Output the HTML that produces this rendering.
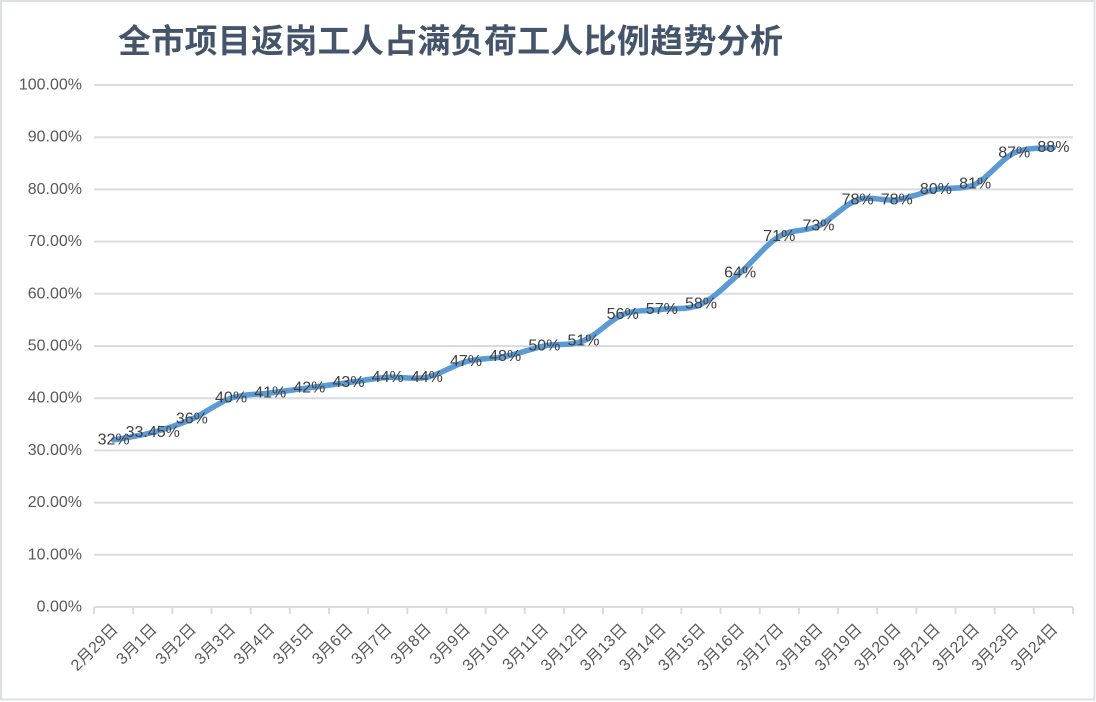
<!DOCTYPE html>
<html>
<head>
<meta charset="utf-8">
<style>
  html,body{margin:0;padding:0;background:#fff;}
  svg{display:block;}
  .yl{font-family:"Liberation Sans","Noto Sans CJK SC",sans-serif;font-size:16px;fill:#595959;}
  .xl{font-family:"Liberation Sans","Noto Sans CJK SC",sans-serif;font-size:16px;fill:#595959;}
  .dl{font-family:"Liberation Sans","Noto Sans CJK SC",sans-serif;font-size:16px;fill:#404040;}
  .tt{font-family:"Liberation Sans","Noto Sans CJK SC",sans-serif;font-size:33px;font-weight:600;fill:#44546A;}
</style>
</head>
<body>
<svg width="1096" height="702" viewBox="0 0 1096 702" xmlns="http://www.w3.org/2000/svg">
  <rect x="0" y="0" width="1096" height="702" fill="#fff"/>
  <rect x="1" y="1" width="1093.5" height="698.5" fill="none" stroke="#DDE1E6" stroke-width="2"/>

  <text class="tt" x="118" y="41" dominant-baseline="central" textLength="665" lengthAdjust="spacing">全市项目返岗工人占满负荷工人比例趋势分析</text>

  <!-- gridlines -->
  <g stroke="#D9DCE1" stroke-width="2">
    <line x1="94" y1="85" x2="1073" y2="85"/>
    <line x1="94" y1="137.2" x2="1073" y2="137.2"/>
    <line x1="94" y1="189.4" x2="1073" y2="189.4"/>
    <line x1="94" y1="241.6" x2="1073" y2="241.6"/>
    <line x1="94" y1="293.8" x2="1073" y2="293.8"/>
    <line x1="94" y1="346" x2="1073" y2="346"/>
    <line x1="94" y1="398.2" x2="1073" y2="398.2"/>
    <line x1="94" y1="450.4" x2="1073" y2="450.4"/>
    <line x1="94" y1="502.6" x2="1073" y2="502.6"/>
    <line x1="94" y1="554.8" x2="1073" y2="554.8"/>
    <line x1="94" y1="607" x2="1073" y2="607"/>
  </g>
  <!-- ticks -->
  <g stroke="#D9DCE1" stroke-width="2" id="ticks"></g>

  <!-- y labels -->
  <g class="yl" text-anchor="end">
    <text x="82" y="85" dominant-baseline="central">100.00%</text>
    <text x="82" y="137.2" dominant-baseline="central">90.00%</text>
    <text x="82" y="189.4" dominant-baseline="central">80.00%</text>
    <text x="82" y="241.6" dominant-baseline="central">70.00%</text>
    <text x="82" y="293.8" dominant-baseline="central">60.00%</text>
    <text x="82" y="346" dominant-baseline="central">50.00%</text>
    <text x="82" y="398.2" dominant-baseline="central">40.00%</text>
    <text x="82" y="450.4" dominant-baseline="central">30.00%</text>
    <text x="82" y="502.6" dominant-baseline="central">20.00%</text>
    <text x="82" y="554.8" dominant-baseline="central">10.00%</text>
    <text x="82" y="607" dominant-baseline="central">0.00%</text>
  </g>

  <!-- series line (fallback polyline, smoothed by script) -->
  <path id="ln" fill="none" stroke="#5B9BD5" stroke-width="5.5" stroke-linejoin="round" stroke-linecap="round"
    d="M113.58,439.96 L152.74,432.39 L191.9,419.08 L231.06,398.2 L270.22,392.98 L309.38,387.76 L348.54,382.54 L387.7,377.32 L426.86,377.32 L466.02,361.66 L505.18,356.44 L544.34,346 L583.5,340.78 L622.66,314.68 L661.82,309.46 L700.98,304.24 L740.14,272.92 L779.3,236.38 L818.46,225.94 L857.62,199.84 L896.78,199.84 L935.94,189.4 L975.1,184.18 L1014.26,152.86 L1053.42,147.64"/>

  <!-- data labels -->
  <g class="dl" text-anchor="middle">
    <text x="113.58" y="439.96" dominant-baseline="central">32%</text>
    <text x="152.74" y="432.39" dominant-baseline="central">33.45%</text>
    <text x="191.9" y="419.08" dominant-baseline="central">36%</text>
    <text x="231.06" y="398.2" dominant-baseline="central">40%</text>
    <text x="270.22" y="392.98" dominant-baseline="central">41%</text>
    <text x="309.38" y="387.76" dominant-baseline="central">42%</text>
    <text x="348.54" y="382.54" dominant-baseline="central">43%</text>
    <text x="387.7" y="377.32" dominant-baseline="central">44%</text>
    <text x="426.86" y="377.32" dominant-baseline="central">44%</text>
    <text x="466.02" y="361.66" dominant-baseline="central">47%</text>
    <text x="505.18" y="356.44" dominant-baseline="central">48%</text>
    <text x="544.34" y="346" dominant-baseline="central">50%</text>
    <text x="583.5" y="340.78" dominant-baseline="central">51%</text>
    <text x="622.66" y="314.68" dominant-baseline="central">56%</text>
    <text x="661.82" y="309.46" dominant-baseline="central">57%</text>
    <text x="700.98" y="304.24" dominant-baseline="central">58%</text>
    <text x="740.14" y="272.92" dominant-baseline="central">64%</text>
    <text x="779.3" y="236.38" dominant-baseline="central">71%</text>
    <text x="818.46" y="225.94" dominant-baseline="central">73%</text>
    <text x="857.62" y="199.84" dominant-baseline="central">78%</text>
    <text x="896.78" y="199.84" dominant-baseline="central">78%</text>
    <text x="935.94" y="189.4" dominant-baseline="central">80%</text>
    <text x="975.1" y="184.18" dominant-baseline="central">81%</text>
    <text x="1014.26" y="152.86" dominant-baseline="central">87%</text>
    <text x="1053.42" y="147.64" dominant-baseline="central">88%</text>
  </g>

  <!-- x labels -->
  <g class="xl" text-anchor="end">
    <text transform="translate(115.6,627) rotate(-45)" dominant-baseline="central">2月29日</text>
    <text transform="translate(154.7,627) rotate(-45)" dominant-baseline="central">3月1日</text>
    <text transform="translate(193.9,627) rotate(-45)" dominant-baseline="central">3月2日</text>
    <text transform="translate(233.1,627) rotate(-45)" dominant-baseline="central">3月3日</text>
    <text transform="translate(272.2,627) rotate(-45)" dominant-baseline="central">3月4日</text>
    <text transform="translate(311.4,627) rotate(-45)" dominant-baseline="central">3月5日</text>
    <text transform="translate(350.5,627) rotate(-45)" dominant-baseline="central">3月6日</text>
    <text transform="translate(389.7,627) rotate(-45)" dominant-baseline="central">3月7日</text>
    <text transform="translate(428.9,627) rotate(-45)" dominant-baseline="central">3月8日</text>
    <text transform="translate(468,627) rotate(-45)" dominant-baseline="central">3月9日</text>
    <text transform="translate(507.2,627) rotate(-45)" dominant-baseline="central">3月10日</text>
    <text transform="translate(546.3,627) rotate(-45)" dominant-baseline="central">3月11日</text>
    <text transform="translate(585.5,627) rotate(-45)" dominant-baseline="central">3月12日</text>
    <text transform="translate(624.7,627) rotate(-45)" dominant-baseline="central">3月13日</text>
    <text transform="translate(663.8,627) rotate(-45)" dominant-baseline="central">3月14日</text>
    <text transform="translate(703,627) rotate(-45)" dominant-baseline="central">3月15日</text>
    <text transform="translate(742.1,627) rotate(-45)" dominant-baseline="central">3月16日</text>
    <text transform="translate(781.3,627) rotate(-45)" dominant-baseline="central">3月17日</text>
    <text transform="translate(820.5,627) rotate(-45)" dominant-baseline="central">3月18日</text>
    <text transform="translate(859.6,627) rotate(-45)" dominant-baseline="central">3月19日</text>
    <text transform="translate(898.8,627) rotate(-45)" dominant-baseline="central">3月20日</text>
    <text transform="translate(937.9,627) rotate(-45)" dominant-baseline="central">3月21日</text>
    <text transform="translate(977.1,627) rotate(-45)" dominant-baseline="central">3月22日</text>
    <text transform="translate(1016.3,627) rotate(-45)" dominant-baseline="central">3月23日</text>
    <text transform="translate(1055.4,627) rotate(-45)" dominant-baseline="central">3月24日</text>
  </g>
</svg>
<script>
(function(){
  var NS="http://www.w3.org/2000/svg";
  var g=document.getElementById("ticks");
  for(var i=0;i<=25;i++){
    var x=94+39.16*i;
    var l=document.createElementNS(NS,"line");
    l.setAttribute("x1",x);l.setAttribute("x2",x);
    l.setAttribute("y1",607);l.setAttribute("y2",614);
    g.appendChild(l);
  }
  var v=[32,33.45,36,40,41,42,43,44,44,47,48,50,51,56,57,58,64,71,73,78,78,80,81,87,88];
  var p=v.map(function(val,i){return [113.58+39.16*i,607-val*5.22];});
  var d="M"+p[0][0]+","+p[0][1];
  var t=1/6;
  for(var i=0;i<p.length-1;i++){
    var p0=p[i>0?i-1:i],p1=p[i],p2=p[i+1],p3=p[i+2<p.length?i+2:i+1];
    var c1x=p1[0]+(p2[0]-p0[0])*t,c1y=p1[1]+(p2[1]-p0[1])*t;
    var c2x=p2[0]-(p3[0]-p1[0])*t,c2y=p2[1]-(p3[1]-p1[1])*t;
    d+=" C"+c1x.toFixed(2)+","+c1y.toFixed(2)+" "+c2x.toFixed(2)+","+c2y.toFixed(2)+" "+p2[0].toFixed(2)+","+p2[1].toFixed(2);
  }
  document.getElementById("ln").setAttribute("d",d);
})();
</script>
</body>
</html>
